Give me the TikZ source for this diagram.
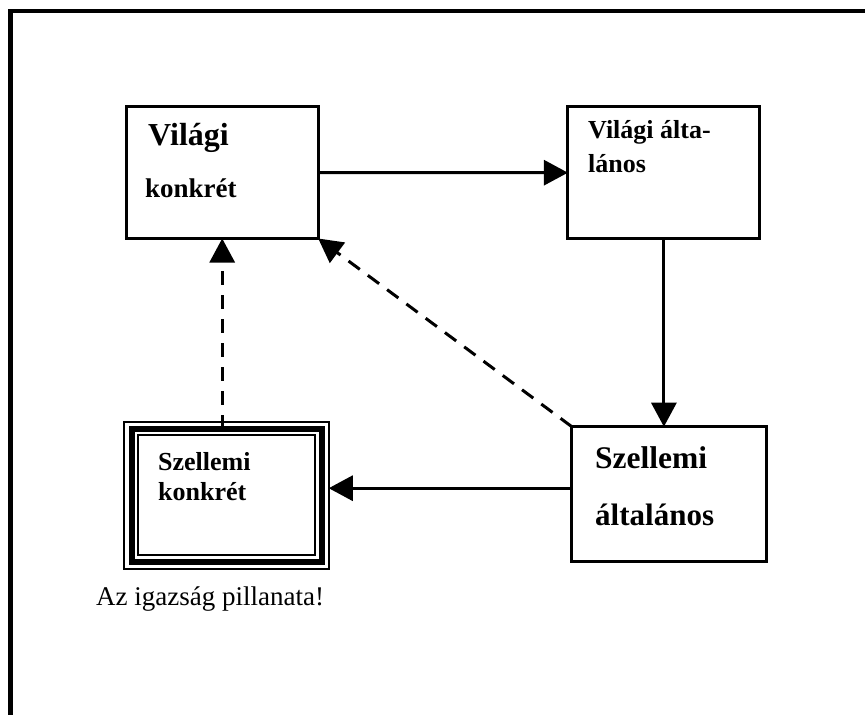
\documentclass[tikz,border=0pt]{standalone}
\usepackage{fontspec}
\setmainfont{Liberation Serif}
\usetikzlibrary{arrows.meta}

\begin{document}
\begin{tikzpicture}[x=1pt, y=-1pt,
  box/.style={rectangle, draw, line width=3pt, outer sep=0pt, inner sep=0pt, minimum width=192pt, minimum height=132pt},
  txt/.style={anchor=base west, inner sep=0pt},
  arr/.style={line width=3pt, -{Triangle[length=24pt,width=25pt]}},
  dasharr/.style={arr, dash pattern=on 14pt off 10pt}]

\useasboundingbox (0,0) rectangle (865,715);
\draw[line width=4.5pt] (865,11) -- (10.5,11) -- (10.5,715); % keret

\node[box] (A) at (222.2,172.5) {};
\node[box] (B) at (663.9,172.7) {};
\node[box, minimum width=195pt, minimum height=135pt] (C) at (669.3,494.2) {};
\node[box, line width=2pt, minimum width=204.5pt, minimum height=147pt] (Dout) at (226.5,495) {};
\node[box, line width=6pt, minimum width=190pt, minimum height=133pt] (D) at (226.5,495) {};
\node[box, line width=2pt, minimum width=177pt, minimum height=120.5pt] (Din) at (226.5,495) {};

% feliratok
\node[txt, font=\bfseries\fontsize{32}{38}\selectfont] (a1) at (148,145) {Világi};
\node[txt, font=\bfseries\fontsize{27}{32}\selectfont] (a2) at (145,197) {konkrét};
\node[txt, font=\bfseries\fontsize{26}{31}\selectfont] (b1) at (588,138) {Világi álta-};
\node[txt, font=\bfseries\fontsize{26}{31}\selectfont] (b2) at (588,172) {lános};
\node[txt, font=\bfseries\fontsize{31.5}{37}\selectfont] (c1) at (595,468) {Szellemi};
\node[txt, font=\bfseries\fontsize{31}{37}\selectfont] (c2) at (595,525) {általános};
\node[txt, font=\bfseries\fontsize{26}{31}\selectfont] (d1) at (158,470) {Szellemi};
\node[txt, font=\bfseries\fontsize{26}{31}\selectfont] (d2) at (158,500) {konkrét};
\node[txt, font=\fontsize{27}{32}\selectfont] (cap) at (96,605) {Az igazság pillanata!};

% Nyilak
\draw[arr] (A.east) -- (B.west);
\draw[arr] (B.south) -- (B.south |- C.north);
\draw[arr] ([yshift=6pt]C.west) -- ([yshift=6pt]C.west -| Dout.east);
\draw[dasharr] (D.north -| A.south) -- (A.south);
\draw[dasharr] (C.north west) -- (A.south east);

\end{tikzpicture}
\end{document}
